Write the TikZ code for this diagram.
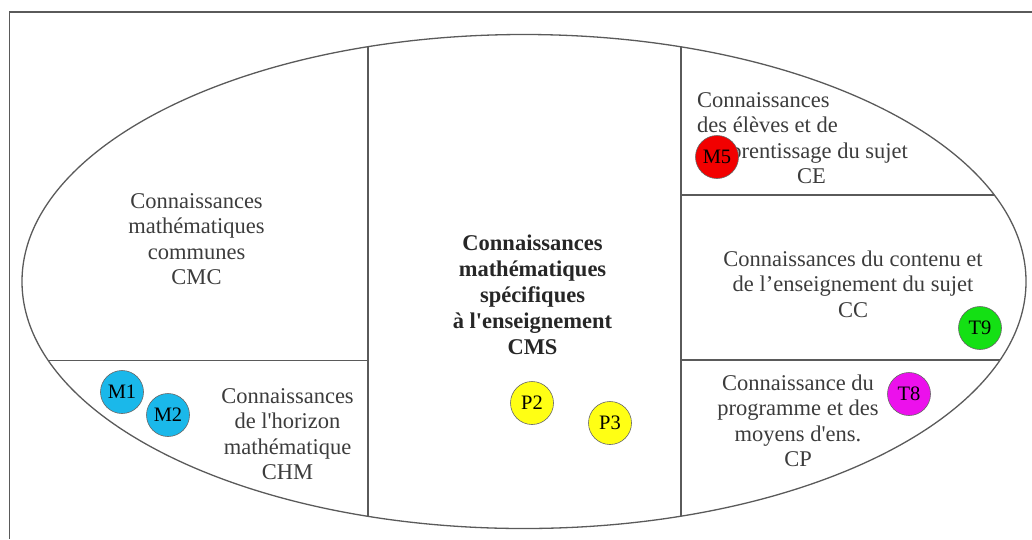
\documentclass[tikz,border=0pt]{standalone}
\usepackage{fontspec}
\setmainfont{Liberation Serif}
\definecolor{linegray}{HTML}{5A5A5A}
\definecolor{txtgray}{HTML}{3C3C3C}
\definecolor{mcyan}{HTML}{1AB8EA}
\definecolor{mred}{HTML}{F20000}
\definecolor{tgreen}{HTML}{14E014}
\definecolor{tmag}{HTML}{EC10EC}
\definecolor{pyellow}{HTML}{FFFF14}
\newcommand{\sq}{\textquotesingle}
\begin{document}
\begin{tikzpicture}[x=1pt,y=-1pt,
  frame/.style={draw=linegray, line width=1.3pt},
  divider/.style={draw=linegray, line width=1.3pt},
  txt/.style={text=txtgray, inner sep=0pt, align=center, font=\fontsize{22.5}{25.5}\selectfont},
  bold/.style={txt, text=black!85, font=\fontsize{22.5}{26}\selectfont\bfseries},
  dot/.style={circle, draw=black!60, line width=0.6pt, minimum size=43pt, inner sep=0pt, text=black, font=\fontsize{20.5}{22}\selectfont}
]
\useasboundingbox (0,0) rectangle (1032,539);
\draw[frame] (1032,12) -- (9.5,12) -- (9.5,539);
\coordinate (ec) at (524,281.5);
\draw[divider] (ec) ellipse [x radius=502pt, y radius=247pt];
\begin{scope}
  \clip (ec) ellipse [x radius=502pt, y radius=247pt];
  \draw[divider] (368,0) -- (368,539);
  \draw[divider] (681,0) -- (681,539);
  \draw[divider] (0,360.5) -- (368,360.5);
  \draw[divider] (681,195) -- (1032,195);
  \draw[divider] (681,360) -- (1032,360);
\end{scope}
\node[txt] (cmc) at (196.5,239) {Connaissances\\mathématiques\\communes\\CMC};
\node[txt] (chm) at (287.5,434) {Connaissances\\de l\sq horizon\\mathématique\\CHM};
\node[bold] (cms) at (532.5,295) {Connaissances\\mathématiques\\spécifiques\\à l\sq enseignement\\CMS};
\node[txt, align=left, anchor=west] (ce) at (697,138) {Connaissances\\des élèves et de\\\hspace*{12pt}apprentissage du sujet\\\hspace*{100pt}CE};
\node[txt] (cc) at (853,284) {Connaissances du contenu et\\de l’enseignement du sujet\\CC};
\node[txt] (cp) at (798,421) {Connaissance du\\programme et des\\moyens d\sq ens.\\CP};
\node[dot, fill=mcyan] (m1) at (122,392) {M1};
\node[dot, fill=mcyan] (m2) at (168,415) {M2};
\node[dot, fill=mred] (m5) at (717,157) {M5};
\node[dot, fill=tgreen] (t9) at (980,328) {T9};
\node[dot, fill=tmag] (t8) at (909,394) {T8};
\node[dot, fill=pyellow] (p2) at (532,403) {P2};
\node[dot, fill=pyellow] (p3) at (610,423) {P3};
\end{tikzpicture}
\end{document}
